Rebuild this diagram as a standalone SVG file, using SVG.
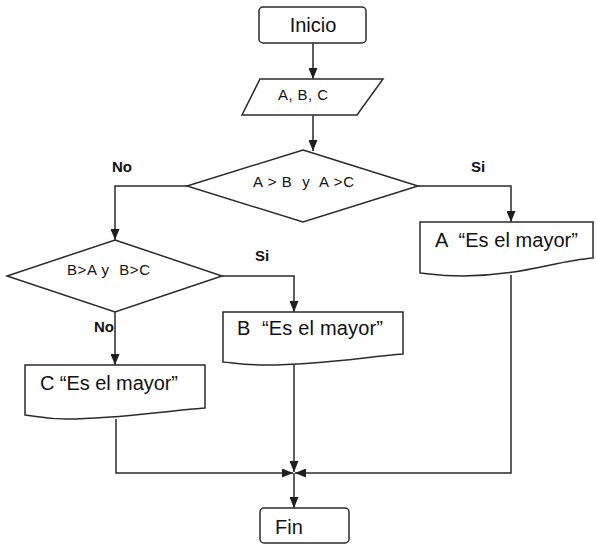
<svg xmlns="http://www.w3.org/2000/svg" width="596" height="544" viewBox="0 0 596 544">
<defs>
<marker id="arr" markerUnits="userSpaceOnUse" markerWidth="11" markerHeight="9" refX="11" refY="4.5" orient="auto">
<path d="M0,0 L11,4.5 L0,9 z" fill="#1e1e1e"/>
</marker>
</defs>
<style>
.shape{fill:#fff;stroke:#2a2a2a;stroke-width:1.5}
.conn{fill:none;stroke:#2a2a2a;stroke-width:1.5;marker-end:url(#arr)}
.t{font-family:"Liberation Sans",Arial,sans-serif;fill:#111}
.big{font-size:20px}
.mid{font-size:15px}
.lbl{font-family:"Liberation Sans",Arial,sans-serif;font-size:15px;font-weight:bold;fill:#111}
</style>
<rect width="596" height="544" fill="#fff"/>
<g id="connectors">
<path class="conn" d="M313,43 V79"/>
<path class="conn" d="M313,115 V151"/>
<path class="conn" d="M187,186 H115 V240"/>
<path class="conn" d="M418,186 H511 V222"/>
<path class="conn" d="M222,276 H294 V312"/>
<path class="conn" d="M115,312 V365"/>
<path class="conn" d="M116,419 V473 H293"/>
<path class="conn" d="M294,364 V472"/>
<path class="conn" d="M511,275 V473 H295"/>
<path class="conn" d="M294,473 V508"/>
</g>
<g id="labels">
<text class="lbl" x="112" y="172">No</text>
<text class="lbl" x="471" y="172">Si</text>
<text class="lbl" x="255" y="261">Si</text>
<text class="lbl" x="94" y="332">No</text>
</g>
<g id="inicio">
<rect class="shape" x="259" y="7" width="107" height="36" rx="4"/>
<text class="t big" x="313" y="32" text-anchor="middle">Inicio</text>
</g>
<g id="entrada">
<polygon class="shape" points="260,79 383,79 357,115 242,115"/>
<text class="t mid" x="278" y="100" textLength="50" lengthAdjust="spacing">A, B, C</text>
</g>
<g id="decision1">
<polygon class="shape" points="303,150 418,186 303,222 187,186"/>
<text class="t mid" x="253" y="187" textLength="101" lengthAdjust="spacing" xml:space="preserve">A &gt; B  y  A &gt;C</text>
</g>
<g id="decision2">
<polygon class="shape" points="115,240 222,276 115,312 7,276"/>
<text class="t mid" x="67" y="275" textLength="83" lengthAdjust="spacing" xml:space="preserve">B&gt;A y  B&gt;C</text>
</g>
<g id="salidaA">
<path class="shape" d="M420,222 H593 V258 C555,261 520,276 463,276 C440,276 430,274 420,273 Z"/>
<text class="t big" x="435" y="247" textLength="143" lengthAdjust="spacing" xml:space="preserve">A  “Es el mayor”</text>
</g>
<g id="salidaB">
<path class="shape" d="M223,312 H403 V354 C365,357 320,365 267,365 C245,365 235,363 223,362 Z"/>
<text class="t big" x="237" y="335" textLength="146" lengthAdjust="spacing" xml:space="preserve">B  “Es el mayor”</text>
</g>
<g id="salidaC">
<path class="shape" d="M25,365 H205 V408 C165,411 115,419 67,419 C45,419 35,416 25,415 Z"/>
<text class="t big" x="40" y="390" textLength="138" lengthAdjust="spacing">C “Es el mayor”</text>
</g>
<g id="fin">
<rect class="shape" x="260" y="508" width="89" height="35" rx="4"/>
<text class="t big" x="275" y="534">Fin</text>
</g>
</svg>
